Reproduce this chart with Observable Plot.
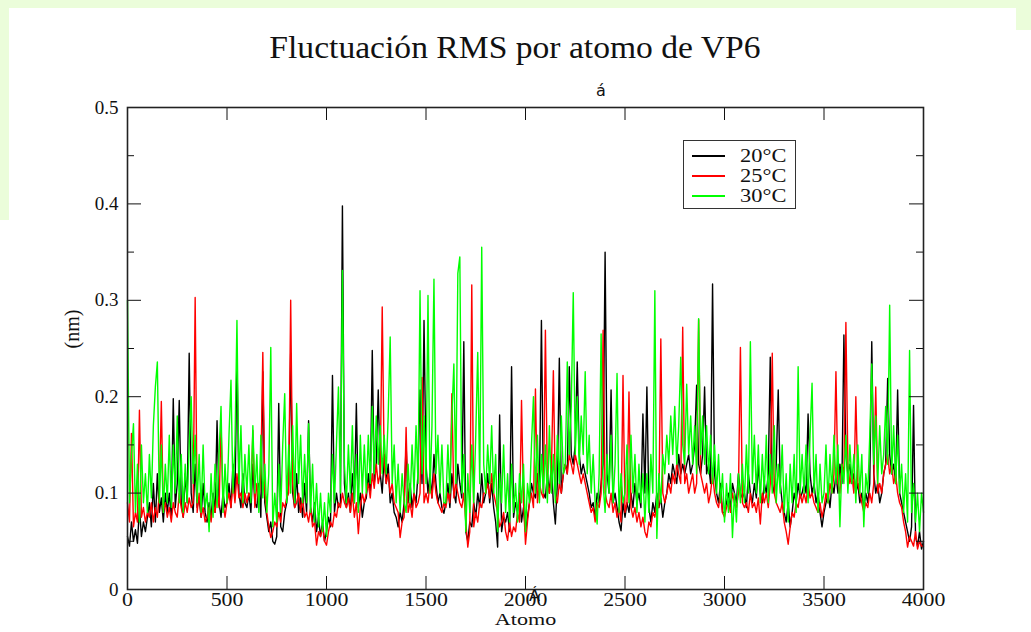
<!DOCTYPE html>
<html>
<head>
<meta charset="utf-8">
<script src="https://cdn.jsdelivr.net/npm/d3@7"></script>
<script src="https://cdn.jsdelivr.net/npm/@observablehq/plot@0.6"></script>
<style>
  html, body { margin: 0; padding: 0; background: #fff; }
  #wrap { position: relative; width: 1031px; height: 632px; overflow: hidden; background: #fff; font-family: "Liberation Serif", "Times New Roman", serif; }
  .strip { position: absolute; background: #ebfdda; }
  #title { position: absolute; left: 0; width: 1031px; top: 29px; text-align: center; font-size: 32px; color: #111; transform: scaleX(1.05); transform-origin: 527px 0; white-space: nowrap; }
  #chart { position: absolute; left: 0; top: 0; }
  #legend { position: absolute; left: 683px; top: 140px; width: 111px; height: 67px; border: 1.5px solid #333; background: #fff; }
  .lg { position: absolute; left: 8px; width: 33px; height: 1.5px; }
  .lt { position: absolute; left: 56px; font-size: 19px; line-height: 19px; color: #111; transform: scaleX(1.18); transform-origin: 0 0; white-space: nowrap; }
  .stray { position: absolute; font-family: "DejaVu Sans", sans-serif; font-size: 16px; line-height: 16px; color: #111; }
</style>
</head>
<body>
<div id="wrap">
  <div class="strip" style="left:0;top:0;width:1031px;height:8px"></div>
  <div class="strip" style="left:0;top:0;width:9px;height:220px"></div>
  <div class="strip" style="left:1016px;top:0;width:15px;height:30px"></div>
  <div id="chart"></div>
  <div id="title">Fluctuación RMS por atomo de VP6</div>
  <div id="legend"></div>
  <div class="stray" style="left:596px;top:83px">á</div>
  <div class="stray" style="left:529px;top:588px">Á</div>
</div>
<script>
// Series names and colours
const seriesNames = ["20°C", "25°C", "30°C"];
const seriesColors = ["#000000", "#ff0000", "#00ff00"];
const xTicks = [0, 500, 1000, 1500, 2000, 2500, 3000, 3500, 4000];
const yMajor = [0, 0.1, 0.2, 0.3, 0.4, 0.5];
const yMinor = [0.05, 0.15, 0.25, 0.35, 0.45];
const atomStep = 10; // values sampled every 10 atoms

// RMS fluctuation (nm), 20°C
const rms20 = [
  .055,.045,.07,.05,.062,.048,.085,.055,.07,.06,
  .075,.09,.065,.11,.07,.12,.08,.095,.07,.1,
  .08,.1,.075,.198,.085,.11,.196,.09,.075,.12,
  .09,.245,.1,.08,.13,.085,.095,.075,.11,.08,
  .07,.09,.075,.1,.08,.175,.09,.075,.1,.085,
  .09,.11,.085,.13,.095,.24,.1,.085,.12,.09,
  .085,.1,.08,.13,.09,.085,.11,.075,.226,.09,
  .075,.06,.07,.05,.047,.055,.193,.065,.06,.08,
  .09,.11,.245,.1,.085,.12,.08,.095,.075,.11,
  .08,.175,.085,.07,.09,.06,.075,.055,.07,.05,
  .06,.075,.065,.222,.08,.1,.085,.09,.398,.11,
  .085,.1,.08,.12,.09,.193,.085,.1,.075,.09,
  .095,.12,.1,.248,.11,.13,.207,.12,.1,.14,
  .11,.13,.09,.1,.08,.075,.065,.08,.07,.09,
  .151,.09,.11,.085,.1,.09,.12,.207,.11,.279,
  .13,.1,.12,.095,.14,.11,.09,.1,.085,.079,
  .09,.11,.085,.12,.1,.09,.13,.11,.095,.257,
  .06,.05,.07,.065,.09,.075,.1,.085,.12,.09,
  .1,.12,.09,.11,.085,.07,.044,.181,.06,.075,
  .07,.08,.06,.231,.075,.09,.08,.1,.07,.085,
  .06,.075,.09,.11,.1,.095,.12,.1,.279,.1,
  .095,.12,.1,.13,.09,.068,.11,.24,.1,.12,
  .13,.12,.231,.14,.13,.15,.236,.14,.12,.13,
  .12,.11,.1,.085,.09,.075,.1,.09,.11,.13,
  .35,.12,.1,.207,.09,.1,.085,.07,.061,.09,
  .075,.09,.08,.1,.085,.11,.09,.1,.085,.182,
  .1,.21,.085,.07,.09,.08,.1,.085,.095,.075,
  .09,.1,.12,.11,.13,.12,.11,.14,.12,.13,
  .12,.13,.14,.12,.13,.15,.212,.13,.12,.14,
  .21,.12,.13,.11,.317,.12,.1,.09,.11,.08,
  .08,.09,.1,.085,.11,.1,.09,.12,.1,.095,
  .1,.085,.12,.1,.09,.11,.095,.13,.1,.09,
  .11,.1,.12,.241,.11,.1,.13,.207,.11,.09,
  .08,.07,.09,.065,.08,.1,.09,.11,.095,.1,
  .11,.1,.182,.12,.1,.11,.09,.1,.08,.065,
  .08,.09,.1,.085,.11,.1,.12,.1,.13,.11,
  .264,.14,.12,.13,.11,.12,.1,.11,.09,.1,
  .085,.1,.09,.11,.257,.12,.1,.11,.09,.1,
  .12,.13,.219,.14,.12,.13,.11,.207,.1,.09,
  .08,.07,.06,.05,.065,.191,.055,.045,.06,.042,
  .05
];

// RMS fluctuation (nm), 25°C
const rms25 = [
  .09,.07,.162,.065,.08,.07,.186,.075,.085,.07,
  .08,.075,.09,.07,.085,.075,.1,.195,.08,.09,
  .075,.085,.07,.09,.08,.075,.1,.085,.075,.09,
  .08,.095,.085,.09,.303,.08,.1,.075,.085,.07,
  .075,.085,.07,.09,.08,.1,.085,.17,.09,.075,
  .09,.1,.085,.11,.09,.12,.095,.1,.085,.1,
  .09,.1,.095,.165,.085,.11,.09,.12,.246,.1,
  .08,.065,.054,.06,.07,.065,.08,.07,.09,.085,
  .095,.1,.3,.11,.085,.09,.1,.08,.095,.075,
  .08,.07,.085,.065,.07,.046,.06,.055,.065,.05,
  .046,.06,.07,.065,.08,.075,.09,.085,.1,.09,
  .085,.095,.08,.1,.075,.09,.058,.085,.1,.09,
  .1,.11,.095,.12,.105,.13,.11,.12,.293,.13,
  .11,.12,.1,.11,.09,.085,.08,.054,.07,.075,
  .168,.08,.09,.075,.1,.085,.09,.1,.22,.09,
  .1,.09,.11,.095,.12,.1,.09,.085,.08,.09,
  .085,.1,.09,.203,.095,.11,.1,.09,.085,.1,
  .07,.044,.06,.316,.065,.08,.07,.09,.085,.1,
  .1,.11,.095,.12,.1,.09,.08,.065,.07,.08,
  .06,.051,.07,.055,.065,.06,.08,.07,.196,.09,
  .047,.07,.09,.1,.085,.208,.09,.11,.1,.095,
  .269,.11,.1,.12,.227,.1,.09,.11,.1,.12,
  .13,.12,.14,.13,.12,.14,.13,.12,.11,.12,
  .11,.1,.09,.08,.085,.07,.09,.085,.1,.269,
  .1,.09,.085,.1,.08,.09,.075,.085,.07,.222,
  .08,.09,.205,.085,.075,.085,.07,.08,.065,.075,
  .06,.054,.07,.065,.08,.075,.09,.085,.26,.1,
  .09,.1,.11,.1,.12,.11,.13,.12,.11,.272,
  .11,.12,.1,.11,.12,.1,.11,.28,.12,.11,
  .1,.11,.09,.1,.12,.1,.09,.085,.1,.08,
  .075,.085,.09,.08,.1,.09,.085,.1,.251,.09,
  .085,.09,.08,.1,.085,.09,.08,.095,.068,.1,
  .09,.1,.085,.11,.245,.1,.09,.085,.08,.09,
  .07,.06,.047,.065,.08,.075,.09,.085,.1,.09,
  .1,.09,.11,.095,.1,.09,.085,.08,.09,.075,
  .085,.1,.09,.11,.1,.12,.226,.11,.1,.13,
  .12,.277,.13,.11,.12,.1,.2,.11,.1,.09,
  .08,.09,.085,.1,.09,.11,.21,.1,.11,.1,
  .12,.13,.14,.12,.13,.11,.12,.1,.09,.085,
  .07,.06,.044,.055,.05,.045,.06,.042,.05,.045,
  .045
];

// RMS fluctuation (nm), 30°C
const rms30 = [
  .3,.09,.14,.172,.08,.13,.07,.15,.09,.12,
  .08,.14,.095,.17,.21,.236,.09,.15,.08,.13,
  .09,.16,.085,.15,.1,.18,.09,.14,.08,.13,
  .09,.15,.2,.11,.16,.09,.14,.08,.15,.085,
  .1,.06,.12,.075,.13,.085,.14,.19,.08,.13,
  .09,.16,.217,.1,.15,.279,.11,.17,.09,.14,
  .1,.15,.09,.17,.1,.14,.08,.16,.095,.13,
  .08,.12,.251,.065,.1,.07,.13,.08,.15,.203,
  .09,.15,.1,.17,.09,.193,.11,.16,.09,.14,
  .09,.172,.08,.13,.07,.11,.065,.1,.06,.09,
  .055,.1,.08,.14,.09,.15,.21,.1,.331,.13,
  .09,.15,.1,.17,.09,.14,.08,.16,.1,.15,
  .1,.16,.11,.19,.12,.18,.13,.17,.12,.16,
  .12,.18,.262,.11,.15,.09,.13,.08,.12,.09,
  .08,.13,.09,.15,.1,.17,.11,.31,.12,.18,
  .11,.305,.1,.17,.322,.12,.16,.1,.15,.09,
  .09,.15,.1,.18,.234,.11,.328,.345,.1,.14,
  .06,.12,.08,.15,.09,.16,.246,.11,.355,.13,
  .1,.15,.11,.17,.1,.14,.06,.12,.09,.15,
  .08,.12,.07,.13,.08,.11,.07,.12,.09,.13,
  .06,.11,.09,.15,.2,.1,.16,.09,.14,.1,
  .15,.09,.17,.1,.14,.09,.16,.11,.18,.12,
  .13,.236,.14,.19,.308,.14,.2,.13,.18,.14,
  .226,.12,.16,.1,.14,.09,.068,.12,.265,.11,
  .08,.14,.1,.16,.09,.13,.224,.08,.12,.09,
  .1,.15,.09,.16,.1,.14,.08,.13,.09,.12,
  .07,.12,.08,.14,.1,.31,.053,.12,.09,.14,
  .12,.16,.13,.18,.14,.19,.13,.17,.241,.15,
  .13,.213,.14,.18,.13,.17,.12,.281,.14,.18,
  .13,.17,.12,.16,.11,.15,.1,.14,.09,.12,
  .07,.11,.08,.12,.054,.1,.07,.12,.09,.13,
  .09,.15,.1,.257,.11,.16,.1,.15,.09,.14,
  .1,.16,.09,.14,.1,.17,.09,.13,.1,.15,
  .08,.12,.07,.13,.09,.14,.08,.231,.1,.14,
  .1,.15,.09,.16,.214,.1,.14,.08,.13,.09,
  .1,.15,.09,.14,.1,.16,.11,.15,.065,.13,
  .11,.16,.1,.15,.11,.14,.09,.15,.1,.14,
  .065,.12,.1,.16,.234,.13,.18,.11,.17,.12,
  .14,.19,.13,.295,.12,.17,.11,.16,.1,.13,
  .08,.12,.07,.248,.08,.11,.07,.1,.06,.1,
  .08
];

const allSeries = [rms20, rms25, rms30];
const rows = allSeries.flatMap((vals, k) => vals.map((v, i) => ({atom: i * atomStep, rms: v, serie: seriesNames[k]})));

const W = 1031, H = 632, mL = 127, mR = 108, mT = 107, mB = 43;
const fw = W - mL - mR, fh = H - mT - mB;

const chart = Plot.plot({
  width: W, height: H,
  marginLeft: mL, marginRight: mR, marginTop: mT, marginBottom: mB,
  style: {fontFamily: "'Liberation Serif', 'Times New Roman', serif", background: "transparent", color: "#111"},
  x: {domain: [0, 4000]},
  y: {domain: [0, 0.5]},
  color: {domain: seriesNames, range: seriesColors},
  marks: [
    Plot.lineY(rows, {x: "atom", y: "rms", z: "serie", stroke: "serie", strokeWidth: 1.4}),
    Plot.tickX(xTicks, {x: d => d, insetTop: fh - 13, stroke: "#111"}),
    Plot.tickX(xTicks, {x: d => d, insetBottom: fh - 13, stroke: "#111"}),
    Plot.tickY(yMajor, {y: d => d, insetRight: fw - 14, stroke: "#111"}),
    Plot.tickY(yMajor, {y: d => d, insetLeft: fw - 14, stroke: "#111"}),
    Plot.tickY(yMinor, {y: d => d, insetRight: fw - 7, stroke: "#111"}),
    Plot.tickY(yMinor, {y: d => d, insetLeft: fw - 7, stroke: "#111"}),
    Plot.frame({stroke: "#222", strokeWidth: 1.6}),
    Plot.axisX({ticks: xTicks, tickSize: 0, tickPadding: 3, fontSize: 19, tickFormat: d => String(d), label: null}),
    Plot.axisY({ticks: yMajor, tickSize: 0, tickPadding: 9, fontSize: 19, tickFormat: d => String(d), label: null}),
    Plot.text(["Atomo"], {frameAnchor: "bottom", dy: 35, fontSize: 17, text: d => d}),
    Plot.text(["(nm)"], {frameAnchor: "left", dx: -55, rotate: -90, fontSize: 20, text: d => d})
  ]
});
document.getElementById("chart").appendChild(chart);

// horizontally widen the serif x tick labels and x label as in the reference
d3.select(chart).selectAll('g[aria-label="x-axis tick label"] text')
  .each(function() {
    const t = this.getAttribute("transform") || "";
    this.setAttribute("transform", t + " scale(1.15,1)");
  });
d3.select(chart).selectAll('g[aria-label="text"] text')
  .each(function() {
    const t = this.getAttribute("transform") || "";
    if (!/rotate/.test(t)) this.setAttribute("transform", t + " scale(1.3,1)");
  });

// legend
const legend = document.getElementById("legend");
seriesNames.forEach((name, i) => {
  const line = document.createElement("div");
  line.className = "lg";
  line.style.top = (14 + i * 20) + "px";
  line.style.background = seriesColors[i];
  legend.appendChild(line);
  const t = document.createElement("div");
  t.className = "lt";
  t.style.top = (5 + i * 20) + "px";
  t.textContent = name;
  legend.appendChild(t);
});
</script>
</body>
</html>
